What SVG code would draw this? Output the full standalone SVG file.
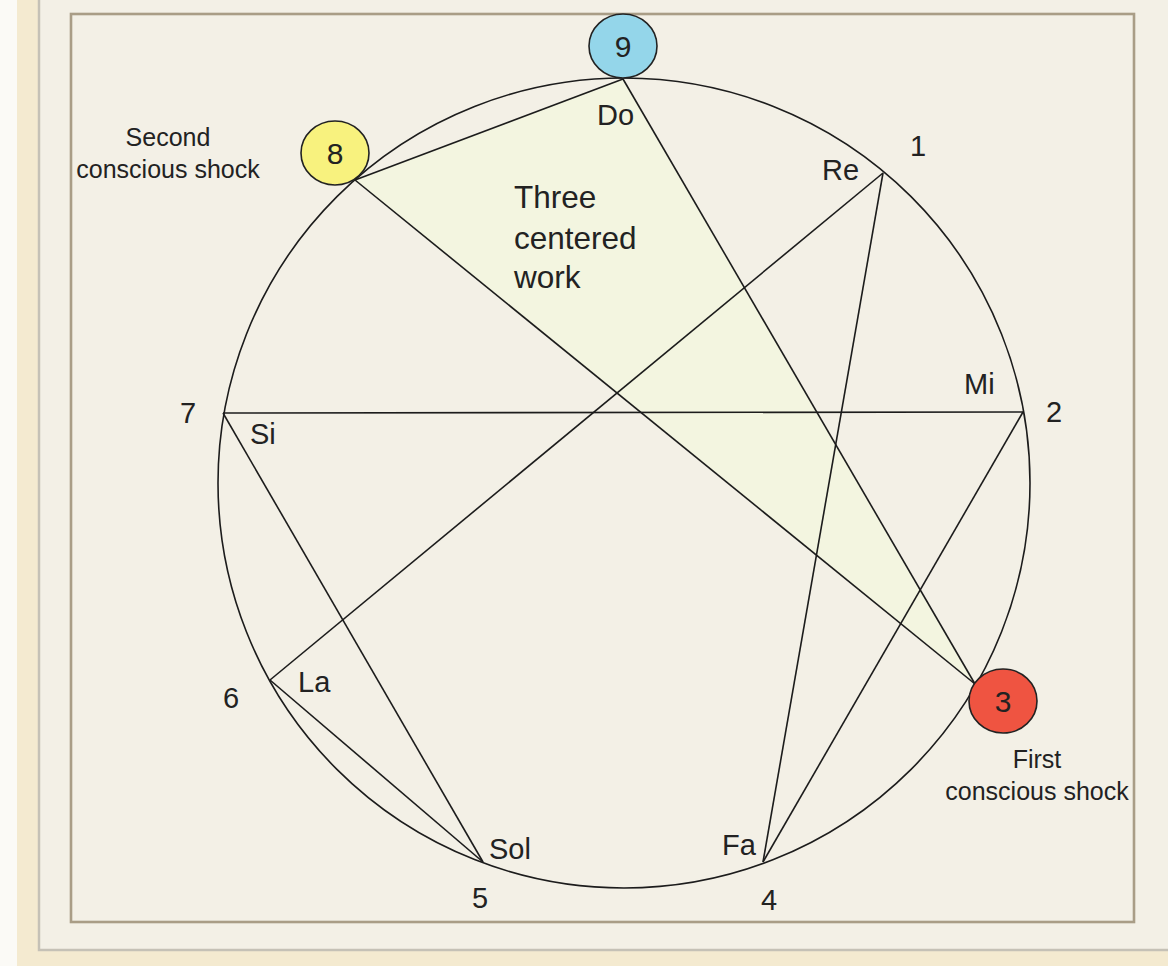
<svg xmlns="http://www.w3.org/2000/svg" width="1168" height="966" viewBox="0 0 1168 966">
<style>
.t{font-family:"Liberation Sans",Arial,sans-serif;fill:#222;}
.n{font-size:29px;}
.b{font-size:30px;}
.s{font-size:25px;}
.c{font-size:31.5px;}
.ln{stroke:#1c1c1c;stroke-width:1.6;fill:none;}
.node{stroke:#222;stroke-width:1.6;}
</style>
<rect x="0" y="0" width="1168" height="966" fill="#f4ead0"/>
<rect x="0" y="0" width="17" height="966" fill="#fbfaf6"/>
<rect x="39" y="-5" width="1140" height="955" fill="#f3f0e6" stroke="#c5c1b6" stroke-width="2.5"/>
<rect x="71" y="14" width="1063" height="908" fill="none" stroke="#a99d86" stroke-width="2.6"/>
<g id="triangle">
<polygon points="623,79 355,180 975,684" fill="#f3f5e0"/>
</g>
<g id="circle">
<ellipse cx="624" cy="483" rx="406" ry="405" class="ln"/>
</g>
<g id="connectors">
<line class="ln" x1="623" y1="79" x2="355" y2="180"/>
<line class="ln" x1="355" y1="180" x2="975" y2="684"/>
<line class="ln" x1="623" y1="79" x2="975" y2="684"/>
<line class="ln" x1="883" y1="173" x2="270" y2="680"/>
<line class="ln" x1="883" y1="173" x2="763" y2="862"/>
<line class="ln" x1="1023" y1="412" x2="223" y2="413"/>
<line class="ln" x1="1023" y1="412" x2="763" y2="862"/>
<line class="ln" x1="223" y1="413" x2="483" y2="862"/>
<line class="ln" x1="270" y1="680" x2="483" y2="862"/>
</g>
<g id="node9">
<ellipse class="node" cx="623" cy="46" rx="34" ry="32" fill="#94d6ea"/>
<text class="t b" x="623" y="57" text-anchor="middle">9</text>
<text class="t n" x="597" y="125">Do</text>
</g>
<g id="node8">
<ellipse class="node" cx="335" cy="153" rx="34" ry="32" fill="#f8f27e"/>
<text class="t b" x="335" y="164" text-anchor="middle">8</text>
<text class="t s" x="168" y="146" text-anchor="middle">Second</text>
<text class="t s" x="168" y="178" text-anchor="middle">conscious shock</text>
</g>
<g id="node3">
<ellipse class="node" cx="1003" cy="701" rx="34" ry="32" fill="#ef5441"/>
<text class="t b" x="1003" y="712" text-anchor="middle">3</text>
<text class="t s" x="1037" y="768" text-anchor="middle">First</text>
<text class="t s" x="1037" y="800" text-anchor="middle">conscious shock</text>
</g>
<g id="node1">
<text class="t n" x="910" y="156">1</text>
<text class="t n" x="822" y="180">Re</text>
</g>
<g id="node2">
<text class="t n" x="1046" y="422">2</text>
<text class="t n" x="964" y="394">Mi</text>
</g>
<g id="node4">
<text class="t n" x="761" y="910">4</text>
<text class="t n" x="722" y="855">Fa</text>
</g>
<g id="node5">
<text class="t n" x="472" y="908">5</text>
<text class="t n" x="489" y="859">Sol</text>
</g>
<g id="node6">
<text class="t n" x="223" y="708">6</text>
<text class="t n" x="298" y="692">La</text>
</g>
<g id="node7">
<text class="t n" x="180" y="423">7</text>
<text class="t n" x="250" y="444">Si</text>
</g>
<g id="label">
<text class="t c" x="514" y="208">Three</text>
<text class="t c" x="514" y="249">centered</text>
<text class="t c" x="514" y="288">work</text>
</g>
</svg>
